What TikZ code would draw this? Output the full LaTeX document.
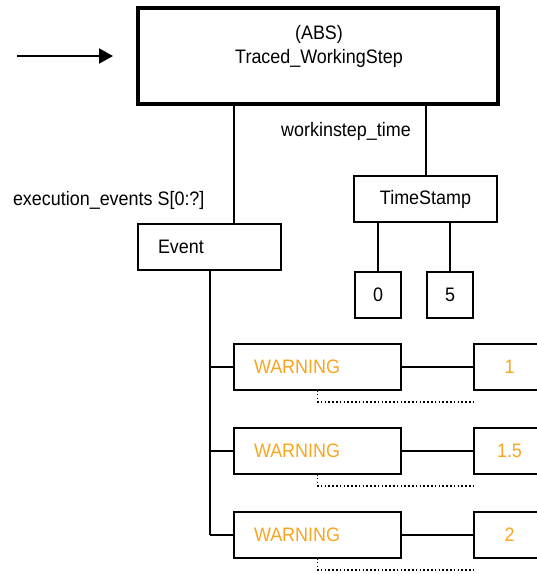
\documentclass[tikz,border=0pt]{standalone}
\usepackage{fontspec}
\setmainfont{Liberation Sans}[FakeStretch=0.92]
\usetikzlibrary{arrows.meta}
\definecolor{warn}{RGB}{250,165,30}
\begin{document}
\begin{tikzpicture}[x=1pt,y=-1pt,
  txt/.style={font=\fontsize{19.5}{24}\selectfont},
  box/.style={draw, line width=2pt, inner sep=0pt, outer sep=0pt, txt, minimum height=46pt},
  lbl/.style={inner sep=0pt, outer sep=0pt, txt},
  conn/.style={line width=2pt},
  dots/.style={line width=1.5pt, dash pattern=on 1.6pt off 2.2pt}]
\clip (0,0) rectangle (537,574);
% main box
\node[box, line width=4pt, minimum width=360pt, minimum height=96pt] (main) at (318,56) {};
\node[lbl, align=center] (maintext) at (319,46) {(ABS)\\Traced\_WorkingStep};
% arrow
\coordinate (arrstart) at (17,56);
\coordinate (arrend) at (113,56);
\draw[conn, -{Triangle[length=14pt,width=15pt]}] (arrstart) -- (arrend);
% labels
\node[lbl] (wstime) at (346,131) {workinstep\_time};
\node[lbl, anchor=west] (exev) at (13,200) {execution\_events S[0:?]};
% event
\node[box, text width=103pt, inner xsep=20pt, align=left] (event) at (209.5,247) {Event};
% timestamp
\node[box, minimum width=143pt] (ts) at (425.5,199) {TimeStamp};
\node[box, minimum width=46pt] (b0) at (378,295) {0};
\node[box, minimum width=46pt] (b5) at (450,295) {5};
% connectors top
\draw[conn] ([xshift=24.5pt]event.north) -- ([xshift=24.5pt]event.north |- main.south);
\draw[conn] (ts.north) -- (ts.north |- main.south);
\draw[conn] (b0.north) -- (b0.north |- ts.south);
\draw[conn] (b5.north) -- (b5.north |- ts.south);
% warnings
\foreach \i/\y/\v in {1/367/1, 2/451/1.5, 3/535/2}{
  \node[box, text width=127pt, inner xsep=20pt, align=left, text=warn] (w\i) at (317.5,\y) {WARNING};
  \node[box, minimum width=71pt, text=warn] (v\i) at (509.5,\y) {\v};
  \draw[conn] (w\i.east) -- (v\i.west);
  \draw[conn] (w\i.west -| event.south) -- (w\i.west);
  \draw[dots] (w\i.south) -- ++(0,12) coordinate (d\i) -- (d\i -| v\i.west);
}
\draw[conn] (event.south) -- (event.south |- w3.west);
\end{tikzpicture}
\end{document}
